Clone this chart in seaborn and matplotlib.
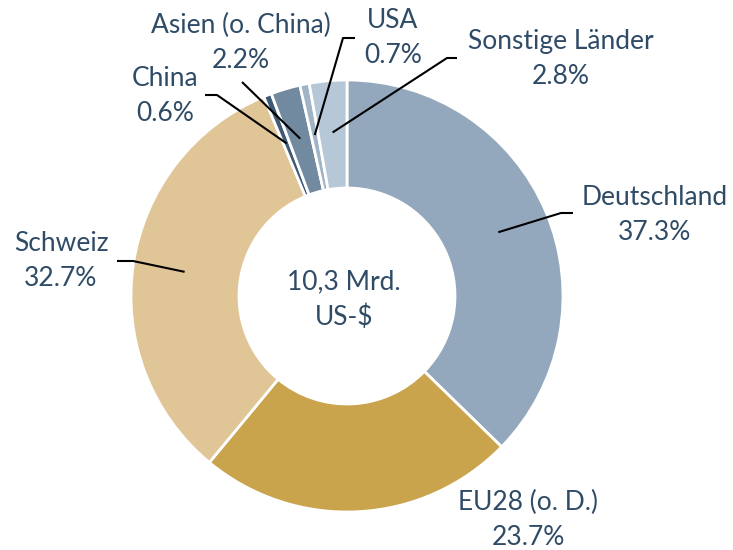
import numpy as np
import seaborn as sns
import matplotlib.pyplot as plt

labels = ['Deutschland', 'EU28 (o. D.)', 'Schweiz', 'China',
          'Asien (o. China)', 'USA', 'Sonstige Länder']
shares = [37.3, 23.7, 32.7, 0.6, 2.2, 0.7, 2.8]
colors = ['#93a8bc', '#c9a44c', '#e0c596', '#3e5a77',
          '#718aa0', '#a0b4c6', '#b6c8d7']
center_text = '10,3 Mrd.\nUS-$'

TEXT_COLOR = '#2f4b66'

sns.set_theme(style='white')
plt.rcParams['font.family'] = ['Lato', 'DejaVu Sans']

fig = plt.figure(figsize=(7.33, 5.5), dpi=100)
ax = fig.add_axes([0, 0, 1, 1])

# pixel helper: center of the ring at (347, 296), radius 216 px
CX, CY, R = 347, 296, 216


def px(x, y):
    return (x - CX) / R, (CY - y) / R


wedges, _ = ax.pie(shares, colors=colors, startangle=90, counterclock=False,
                   radius=1.0, wedgeprops=dict(width=0.5, edgecolor='white', linewidth=2))

ax.set_xlim(px(0, 0)[0], px(733, 0)[0])
ax.set_ylim(px(0, 550)[1], px(0, 0)[1])
ax.set_aspect('equal')
ax.axis('off')

# label text centers and leader line bends (pixels)
label_pos = [(655, 215), (528, 520), (61, 261), (165, 96),
             (241, 43), (393, 38), (561, 59)]
leader = [
    [(561, 213), (573, 213)],
    None,
    [(133, 261), (117, 261)],
    [(217, 95), (205, 95)],
    [(242, 82)],
    [(343, 38), (355, 38)],
    [(447, 58), (457, 58)],
]

cum = np.cumsum([0] + shares)
for i, (lab, val) in enumerate(zip(labels, shares)):
    mid = np.deg2rad(90 - 3.6 * (cum[i] + val / 2))
    x0, y0 = 0.76 * np.cos(mid), 0.76 * np.sin(mid)
    if leader[i] is not None:
        pts = [(x0, y0)] + [px(*p) for p in leader[i]]
        xs, ys = zip(*pts)
        ax.plot(xs, ys, color='black', lw=1.5, solid_capstyle='butt')
    tx, ty = px(*label_pos[i])
    ax.text(tx, ty, f'{lab}\n{val:.1f}%', ha='center', va='center',
            fontsize=19, color=TEXT_COLOR, linespacing=1.5)

cx, cy = px(344, 300)
ax.text(cx, cy, center_text, ha='center', va='center', fontsize=19,
        color=TEXT_COLOR, linespacing=1.5)

plt.savefig('out.png', dpi=100)
